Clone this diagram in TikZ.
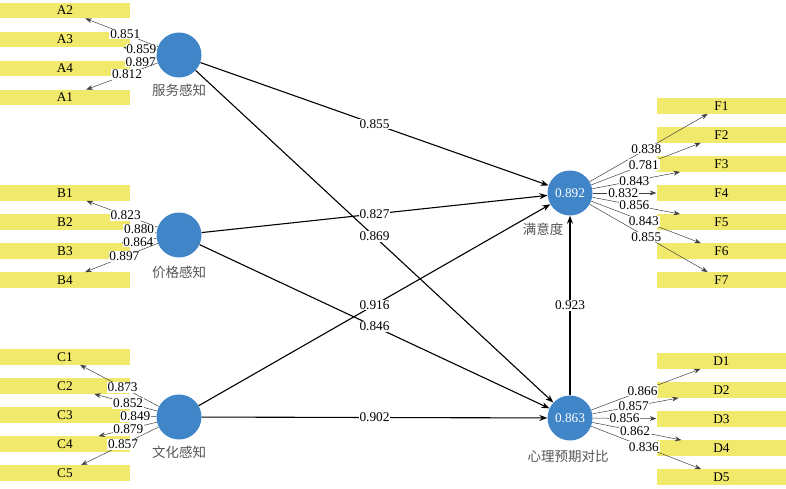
\documentclass[tikz,border=0pt]{standalone}
\usepackage{fontspec}
\setmainfont{Liberation Serif}
\newfontfamily\cjkfont{Noto Sans CJK SC}
\usetikzlibrary{arrows.meta,positioning}

\definecolor{lvblue}{RGB}{64,133,199}
\definecolor{mvyellow}{RGB}{241,233,108}
\definecolor{lvgray}{RGB}{85,85,85}

\tikzset{
  latent/.style={circle, fill=lvblue, minimum size=45pt, inner sep=0pt, text=white},
  item/.style={rectangle, fill=mvyellow, minimum width=130pt, minimum height=15.5pt, inner sep=0pt},
  loadarr/.style={draw=black!75, line width=0.5pt, -{Stealth[length=6.5pt,width=4.8pt]}},
  patharr/.style={draw=black, line width=1.1pt, -{Stealth[length=8pt,width=6pt]}},
  coef/.style={fill=white, inner sep=0.8pt},
  lvname/.style={text=lvgray, font=\cjkfont\fontsize{13.5}{15}\selectfont},
}

\begin{document}
\begin{tikzpicture}[x=1pt, y=-1pt, node distance=29pt,
  font=\fontsize{13.3}{15}\selectfont]
\useasboundingbox (0,0) rectangle (786,489);

% indicator boxes, left
\node (A2) [item] at (65,10.5) {A2};
\node (A3) [item, below of=A2] {A3};
\node (A4) [item, below of=A3] {A4};
\node (A1) [item, below of=A4] {A1};
\node (B1) [item] at (65,193) {B1};
\node (B2) [item, below of=B1] {B2};
\node (B3) [item, below of=B2] {B3};
\node (B4) [item, below of=B3] {B4};
\node (C1) [item] at (65,357) {C1};
\node (C2) [item, below of=C1] {C2};
\node (C3) [item, below of=C2] {C3};
\node (C4) [item, below of=C3] {C4};
\node (C5) [item, below of=C4] {C5};

% indicator boxes, right
\node (F1) [item] at (721.5,106) {F1};
\node (F2) [item, below of=F1] {F2};
\node (F3) [item, below of=F2] {F3};
\node (F4) [item, below of=F3] {F4};
\node (F5) [item, below of=F4] {F5};
\node (F6) [item, below of=F5] {F6};
\node (F7) [item, below of=F6] {F7};
\node (D1) [item] at (721.5,361) {D1};
\node (D2) [item, below of=D1] {D2};
\node (D3) [item, below of=D2] {D3};
\node (D4) [item, below of=D3] {D4};
\node (D5) [item, below of=D4] {D5};

% latent variables
\node (FW) [latent] at (179,55) {};
\node (JG) [latent] at (179,235) {};
\node (WH) [latent] at (179,417) {};
\node (MY) [latent] at (570,193) {0.892};
\node (XL) [latent] at (570,418) {0.863};
\node (FWname) [lvname, below=3pt of FW] {服务感知};
\node (JGname) [lvname, below=5pt of JG] {价格感知};
\node (WHname) [lvname, below=3pt of WH] {文化感知};
\node (MYname) [lvname, below=4pt of MY, xshift=-27pt] {满意度};
\node (XLname) [lvname, below=6pt of XL, xshift=-2pt] {心理预期对比};

% outer loadings
\draw[loadarr] (FW) -- node[coef, pos=0.45] {0.851} (A2);
\draw[loadarr] (FW) -- node[coef, pos=0.46, yshift=1pt] {0.859} (A3);
\draw[loadarr] (FW) -- node[coef, pos=0.6, yshift=-2.5pt] {0.897} (A4);
\draw[loadarr] (FW) -- node[coef, pos=0.43] {0.812} (A1);
\draw[loadarr] (JG) -- node[coef, pos=0.45] {0.823} (B1);
\draw[loadarr] (JG) -- node[coef, pos=0.66, yshift=1.5pt] {0.880} (B2);
\draw[loadarr] (JG) -- node[coef, pos=0.52, yshift=-1pt] {0.864} (B3);
\draw[loadarr] (JG) -- node[coef, pos=0.46] {0.897} (B4);
\draw[loadarr] (WH) -- node[coef, pos=0.46] {0.873} (C1);
\draw[loadarr] (WH) -- node[coef, pos=0.46] {0.852} (C2);
\draw[loadarr] (WH) -- node[coef, pos=0.8] {0.849} (C3);
\draw[loadarr] (WH) -- node[coef, pos=0.49] {0.879} (C4);
\draw[loadarr] (WH) -- node[coef, pos=0.46] {0.857} (C5);

\draw[loadarr] (MY) -- node[coef, pos=0.48] {0.838} (F1);
\draw[loadarr] (MY) -- node[coef, pos=0.48] {0.781} (F2);
\draw[loadarr] (MY) -- node[coef, pos=0.48] {0.843} (F3);
\draw[loadarr] (MY) -- node[coef, pos=0.48] {0.832} (F4);
\draw[loadarr] (MY) -- node[coef, pos=0.48] {0.856} (F5);
\draw[loadarr] (MY) -- node[coef, pos=0.48] {0.843} (F6);
\draw[loadarr] (MY) -- node[coef, pos=0.48] {0.855} (F7);
\draw[loadarr] (XL) -- node[coef, pos=0.47] {0.866} (D1);
\draw[loadarr] (XL) -- node[coef, pos=0.48] {0.857} (D2);
\draw[loadarr] (XL) -- node[coef, pos=0.5] {0.856} (D3);
\draw[loadarr] (XL) -- node[coef, pos=0.48] {0.862} (D4);
\draw[loadarr] (XL) -- node[coef, pos=0.48] {0.836} (D5);

% inner paths
\draw[patharr] (FW) -- node[coef, midway] {0.855} (MY);
\draw[patharr] (FW) -- node[coef, midway] {0.869} (XL);
\draw[patharr] (JG) -- node[coef, midway] {0.827} (MY);
\draw[patharr] (JG) -- node[coef, midway] {0.846} (XL);
\draw[patharr] (WH) -- node[coef, midway] {0.916} (MY);
\draw[patharr] (WH) -- node[coef, midway] {0.902} (XL);
\draw[patharr] (XL) -- node[coef, midway] {0.923} (MY);
\end{tikzpicture}
\end{document}
